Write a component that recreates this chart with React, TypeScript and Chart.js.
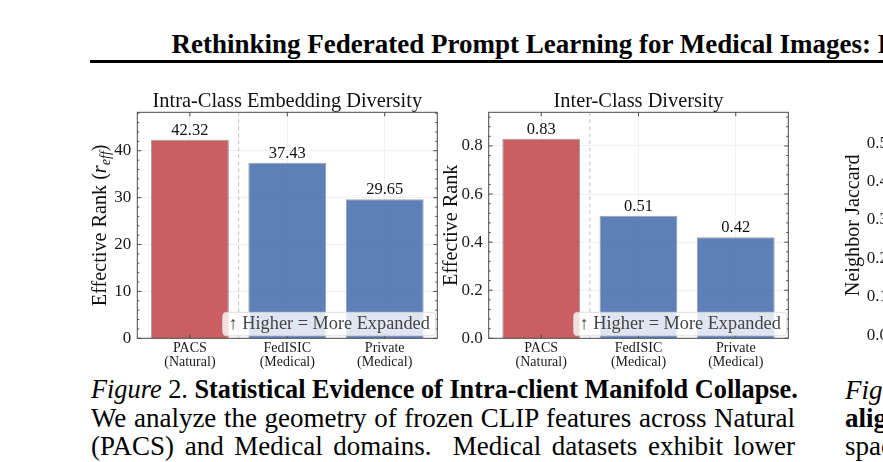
import { useEffect, useRef } from "react";
import { Chart, registerables, type Plugin } from "chart.js";

Chart.register(...registerables);

const SERIF = '"Liberation Serif", "Times New Roman", serif';
Chart.defaults.font.family = SERIF;
Chart.defaults.color = "#1a1a1a";

// ── data ─────────────────────────────────────────────────────────────
const CATEGORIES = ["PACS", "FedISIC", "Private"];
const DOMAINS = ["(Natural)", "(Medical)", "(Medical)"];
const INTRA_RANK = [42.32, 37.43, 29.65];
const INTER_RANK = [0.83, 0.51, 0.42];
const INTRA_TICKS = [0, 10, 20, 30, 40];
const INTER_TICKS = [0, 0.2, 0.4, 0.6, 0.8];
const JACCARD_TICKS = [0, 0.1, 0.2, 0.3, 0.4, 0.5]; // cut off at the page edge
const NOTE = "↑ Higher = More Expanded";

const RED = "rgba(196, 78, 82, 0.9)";
const BLUE = "rgba(76, 114, 176, 0.9)";
const BAR_COLORS = [RED, BLUE, BLUE];

type Run = { text: string; italic?: boolean; sub?: boolean };

interface Panel {
  title?: string;
  yTitle: Run[];
  values: number[];
  ticks: number[];
  yMin: number;
  yMax: number;
  minor: number;
  tickDigits: number;
  left: number;
  width: number;
  axisW: number;
  padRight: number;
  titleGap: number;
}

const PANELS: Panel[] = [
  {
    title: "Intra-Class Embedding Diversity",
    yTitle: [
      { text: "Effective Rank (" },
      { text: "r", italic: true },
      { text: "eff", italic: true, sub: true },
      { text: ")" },
    ],
    values: INTRA_RANK,
    ticks: INTRA_TICKS,
    yMin: 0, yMax: 48.2, minor: 2, tickDigits: 0,
    left: 80, width: 365, axisW: 57.3, padRight: 7.7, titleGap: 31.4,
  },
  {
    title: "Inter-Class Diversity",
    yTitle: [{ text: "Effective Rank" }],
    values: INTER_RANK,
    ticks: INTER_TICKS,
    yMin: 0, yMax: 0.94, minor: 0.04, tickDigits: 1,
    left: 440, width: 360, axisW: 48.7, padRight: 11.7, titleGap: 31.6,
  },
  {
    yTitle: [{ text: "Neighbor Jaccard" }],
    values: [],
    ticks: JACCARD_TICKS,
    yMin: -0.008, yMax: 0.58, minor: 0.02, tickDigits: 1,
    left: 840, width: 200, axisW: 54, padRight: 5, titleGap: 35,
  },
];

function drawRuns(ctx: CanvasRenderingContext2D, runs: Run[], size: number, x: number, cy: number) {
  const font = (r: Run) => `${r.italic ? "italic " : ""}${r.sub ? size * 0.7 : size}px ${SERIF}`;
  let w = 0;
  for (const r of runs) { ctx.font = font(r); w += ctx.measureText(r.text).width; }
  ctx.save();
  ctx.translate(x, cy);
  ctx.rotate(-Math.PI / 2);
  ctx.textBaseline = "alphabetic";
  ctx.textAlign = "left";
  ctx.fillStyle = "#111";
  let cx = -w / 2;
  for (const r of runs) {
    ctx.font = font(r);
    ctx.fillText(r.text, cx, r.sub ? size * 0.22 : 0);
    cx += ctx.measureText(r.text).width;
  }
  ctx.restore();
}

function panelPlugin(p: Panel): Plugin<"bar"> {
  return {
    id: "paperPanel",
    beforeDatasetsDraw(chart) {
      if (!p.values.length) return;
      const { ctx, chartArea: a } = chart;
      const sx = chart.scales.x.getPixelForValue(0.5);
      ctx.save();
      ctx.strokeStyle = "#c2c2c2";
      ctx.lineWidth = 1;
      ctx.setLineDash([4, 3]);
      ctx.beginPath();
      ctx.moveTo(sx, a.top);
      ctx.lineTo(sx, a.bottom);
      ctx.stroke();
      ctx.restore();
    },
    afterDatasetsDraw(chart) {
      const { ctx, chartArea: a } = chart;
      const ys = chart.scales.y;
      ctx.save();

      // value labels
      if (p.values.length) {
        ctx.font = `16.5px ${SERIF}`;
        ctx.fillStyle = "#111";
        ctx.textAlign = "center";
        ctx.textBaseline = "alphabetic";
        chart.getDatasetMeta(0).data.forEach((el, i) => {
          ctx.fillText(p.values[i].toFixed(2), el.x, el.y - 5);
        });
      }

      // frame + inward ticks
      ctx.strokeStyle = "#4a4a4a";
      ctx.lineWidth = 1;
      ctx.strokeRect(a.left, a.top, a.right - a.left, a.bottom - a.top);
      ctx.beginPath();
      const yTick = (v: number, len: number) => {
        const y = ys.getPixelForValue(v);
        ctx.moveTo(a.left, y); ctx.lineTo(a.left + len, y);
        ctx.moveTo(a.right, y); ctx.lineTo(a.right - len, y);
      };
      p.ticks.forEach((v) => yTick(v, 4));
      const start = Math.ceil(p.yMin / p.minor);
      for (let k = start; k * p.minor <= p.yMax + 1e-9; k++) {
        const v = k * p.minor;
        if (p.ticks.some((t) => Math.abs(t - v) < 1e-6)) continue;
        yTick(v, 2);
      }
      if (p.values.length) {
        CATEGORIES.forEach((_, i) => {
          const x = chart.scales.x.getPixelForValue(i);
          ctx.moveTo(x, a.bottom); ctx.lineTo(x, a.bottom - 4);
          ctx.moveTo(x, a.top); ctx.lineTo(x, a.top + 4);
        });
      }
      ctx.stroke();

      // note box
      if (p.values.length) {
        ctx.font = `18.3px ${SERIF}`;
        const tw = ctx.measureText(NOTE).width;
        const bw = tw + 12, bh = 23.5;
        const bx = a.right - 1.5 - bw, by = a.bottom - 2.5 - bh;
        ctx.beginPath();
        ctx.roundRect(bx, by, bw, bh, 4);
        ctx.fillStyle = "rgba(255,255,255,0.8)";
        ctx.fill();
        ctx.strokeStyle = "rgba(215,215,215,0.8)";
        ctx.stroke();
        ctx.fillStyle = "#444";
        ctx.textAlign = "left";
        ctx.textBaseline = "middle";
        ctx.fillText(NOTE, bx + 6, by + bh / 2 + 0.5);
      }

      // title
      if (p.title) {
        ctx.font = `20.4px ${SERIF}`;
        ctx.fillStyle = "#111";
        ctx.textAlign = "center";
        ctx.textBaseline = "alphabetic";
        ctx.fillText(p.title, (a.left + a.right) / 2, a.top - 5.6);
      }
      ctx.restore();

      drawRuns(ctx, p.yTitle, 20.2, a.left - p.titleGap, (a.top + a.bottom) / 2);
    },
  };
}

function PanelChart({ p }: { p: Panel }) {
  const ref = useRef<HTMLCanvasElement>(null);

  useEffect(() => {
    if (!ref.current) return;
    const hasBars = p.values.length > 0;
    const chart = new Chart(ref.current, {
      type: "bar",
      data: {
        datasets: hasBars
          ? [{
              data: p.values.map((v, i) => ({ x: i, y: v })) as any,
              backgroundColor: BAR_COLORS,
              borderColor: "rgba(80,80,80,0.55)",
              borderWidth: 1,
              barPercentage: 0.8,
              categoryPercentage: 1,
            }]
          : [],
      },
      options: {
        responsive: false,
        animation: false,
        layout: { padding: { left: 0, top: 27.3, right: p.padRight, bottom: 0 } },
        plugins: { legend: { display: false }, tooltip: { enabled: false } },
        scales: {
          x: {
            type: "linear",
            min: -0.54,
            max: 2.54,
            bounds: "data",
            offset: false,
            afterBuildTicks: (s) => { s.ticks = CATEGORIES.map((_, i) => ({ value: i })); },
            afterFit: (s) => { s.height = 36.7; },
            border: { display: false },
            grid: { color: hasBars ? "#ececec" : "transparent", lineWidth: 0.8, drawTicks: false, offset: false },
            ticks: {
              padding: 3,
              color: "#1a1a1a",
              font: { size: 14, lineHeight: 1.0 },
              maxRotation: 0,
              autoSkip: false,
              callback: (v) => (hasBars ? [CATEGORIES[Number(v)], DOMAINS[Number(v)]] : ""),
            },
          },
          y: {
            type: "linear",
            min: p.yMin,
            max: p.yMax,
            bounds: "data",
            afterBuildTicks: (s) => { s.ticks = p.ticks.map((v) => ({ value: v })); },
            afterFit: (s) => { s.width = p.axisW; },
            border: { display: false },
            grid: { color: "#ececec", lineWidth: 0.8, drawTicks: false },
            ticks: {
              padding: 6,
              color: "#1a1a1a",
              font: { size: 17 },
              callback: (v) => Number(v).toFixed(p.tickDigits),
            },
          },
        },
      } as any,
      plugins: [panelPlugin(p)],
    });
    return () => { chart.destroy(); };
  }, [p]);

  return (
    <canvas
      ref={ref}
      width={p.width}
      height={290}
      style={{ position: "absolute", left: p.left, top: 85, width: p.width, height: 290 }}
    />
  );
}

const line: React.CSSProperties = {
  textAlign: "justify",
  textAlignLast: "justify",
  whiteSpace: "nowrap",
  height: 28,
};

export default function App() {
  return (
    <div
      style={{
        position: "fixed", left: 0, top: 0, width: 883, height: 462,
        overflow: "hidden", background: "#fff", fontFamily: SERIF, color: "#000",
      }}
    >
      <div
        style={{
          position: "absolute", left: 171.5, top: 30.7, fontSize: 27, lineHeight: "27px",
          fontWeight: "bold", whiteSpace: "nowrap",
        }}
      >
        Rethinking Federated Prompt Learning for Medical Images: From
      </div>
      <div style={{ position: "absolute", left: 90, top: 59.5, width: 900, height: 3, background: "#000" }} />

      {PANELS.map((p, i) => <PanelChart key={i} p={p} />)}

      <div style={{ position: "absolute", left: 91, top: 376, width: 704, fontSize: 27, lineHeight: "28px" }}>
        <div style={{ ...line, fontSize: 26.3 }}>
          <i>Figure</i> 2. <b>Statistical Evidence of Intra-client Manifold Collapse.</b>
        </div>
        <div style={line}>We analyze the geometry of frozen CLIP features across Natural</div>
        <div style={line}>(PACS) and Medical domains.&nbsp; Medical datasets exhibit lower</div>
      </div>

      <div style={{ position: "absolute", left: 845, top: 376, fontSize: 27, lineHeight: "28px", whiteSpace: "nowrap" }}>
        <div><i>Figure</i> 3.</div>
        <div><b>alignment</b></div>
        <div>space</div>
      </div>
    </div>
  );
}
